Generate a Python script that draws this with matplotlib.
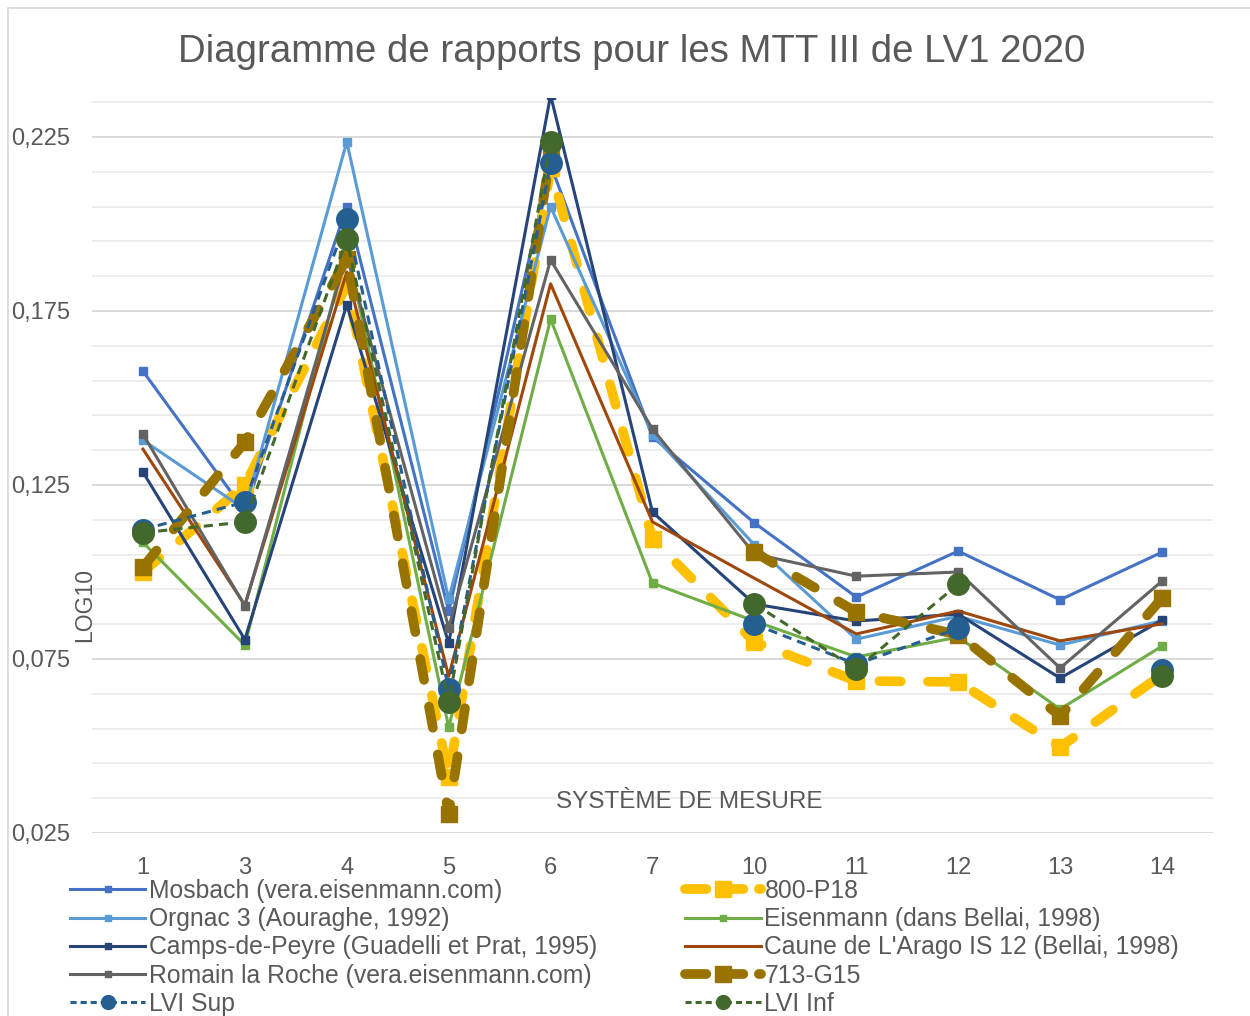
import numpy as np
import matplotlib
matplotlib.use("Agg")
import matplotlib.pyplot as plt
from matplotlib.lines import Line2D
from matplotlib.patches import Rectangle
from matplotlib.ticker import FixedLocator, FuncFormatter

plt.rcParams['font.family'] = ['Liberation Sans', 'DejaVu Sans']

nan = np.nan

# Measurement systems (category axis)
categories = ['1', '3', '4', '5', '6', '7', '10', '11', '12', '13', '14']

# LOG10 ratios per reference series
mosbach = [0.1577, 0.1175, 0.2050, 0.0888, 0.2170, 0.1388, 0.1141, 0.0928, 0.1060, 0.0920, 0.1057]
orgnac = [0.1379, 0.1180, 0.2236, 0.0922, 0.2050, 0.1395, 0.1078, 0.0807, 0.0873, 0.0790, 0.0860]
camps = [0.1287, 0.0806, 0.1768, 0.0795, 0.2370, 0.1172, 0.0908, 0.0859, 0.0879, 0.0695, 0.0862]
romain = [0.1396, 0.0903, 0.1910, 0.0840, 0.1897, 0.1411, 0.1052, 0.0988, 0.1000, 0.0724, 0.0974]
p18 = [0.1000, 0.1250, 0.1825, 0.0412, 0.2160, 0.1095, 0.0799, 0.0687, 0.0684, 0.0497, 0.0705]
eisenmann = [0.1085, 0.0790, 0.1935, 0.0554, 0.1727, 0.0968, 0.0859, 0.0756, 0.0813, 0.0606, 0.0787]
caune = [0.1353, 0.0905, 0.1862, 0.0700, 0.1828, 0.1144, 0.0982, 0.0822, 0.0888, 0.0802, 0.0851]
g15 = [0.1014, 0.1373, 0.1900, 0.0305, 0.2205, nan, 0.1057, 0.0885, 0.0820, 0.0586, 0.0925]
lvi_sup = [0.1122, 0.1201, 0.2013, 0.0664, 0.2175, nan, 0.0850, 0.0735, 0.0838, nan, 0.0718]
lvi_inf = [0.1113, 0.1144, 0.1957, 0.0626, 0.2236, nan, 0.0908, 0.0721, 0.0965, nan, 0.0700]

y_ticks = [0.025, 0.075, 0.125, 0.175, 0.225]

W, H = 1250, 1016
fig = plt.figure(figsize=(W / 100, H / 100), dpi=100)
fig.patch.set_facecolor('white')

# chart area border
fig.patches.append(Rectangle((8 / W, -0.01), 1.02, 1 - 8 / H + 0.01, transform=fig.transFigure,
                             fill=False, edgecolor='#D9D9D9', linewidth=1.2))

left, right, bottom = 92 / W, 1213 / W, 1 - 833 / H
ylo, yhi = 0.025, 0.2362
top_px = 833 - (yhi - ylo) / 0.05 * 174
ax = fig.add_axes([left, bottom, right - left, (833 - top_px) / H])

x = np.arange(len(categories))

thin = dict(linewidth=2.2, marker='s', markersize=5.5)
thick = dict(linewidth=7, marker='s', markersize=11, dash_capstyle='round',
             dashes=(2.2, 2.8))
lvi = dict(linewidth=2.2, marker='o', markersize=15.5, dashes=(3, 2))

series = [
    ('Mosbach (vera.eisenmann.com)', mosbach, '#4472C4', thin),
    ('800-P18', p18, '#FFC000', thick),
    ('Orgnac 3 (Aouraghe, 1992)', orgnac, '#5B9BD5', thin),
    ('Eisenmann (dans Bellai, 1998)', eisenmann, '#70AD47', thin),
    ('Camps-de-Peyre (Guadelli et Prat, 1995)', camps, '#264478', thin),
    ("Caune de L'Arago IS 12 (Bellai, 1998)", caune, '#9E480E', dict(linewidth=2.2)),
    ('Romain la Roche (vera.eisenmann.com)', romain, '#636363', thin),
    ('713-G15', g15, '#997300', thick),
    ('LVI Sup', lvi_sup, '#255E91', lvi),
    ('LVI Inf', lvi_inf, '#43682B', lvi),
]

handles = {}
for i, (name, vals, color, style) in enumerate(series):
    ln, = ax.plot(x, vals, color=color, markerfacecolor=color, markeredgecolor=color,
                  label=name, zorder=3 + i, **style)
    handles[name] = ln

ax.set_xlim(-0.5, len(categories) - 0.5)
ax.set_ylim(ylo, yhi)
ax.set_xticks(x)
ax.set_xticklabels(categories)
ax.yaxis.set_major_locator(FixedLocator(y_ticks))
ax.yaxis.set_minor_locator(FixedLocator(np.arange(0.035, 0.236, 0.01)))
ax.yaxis.set_major_formatter(FuncFormatter(lambda v, p: f"{v:.3f}".replace('.', ',')))
ax.grid(which='major', axis='y', color='#D9D9D9', linewidth=1.4, zorder=0)
ax.grid(which='minor', axis='y', color='#EDEDED', linewidth=1.4, zorder=0)
ax.set_axisbelow(True)
for s in ax.spines.values():
    s.set_visible(False)
ax.tick_params(axis='both', which='both', length=0, labelsize=17, labelcolor='#595959')
ax.tick_params(axis='y', pad=16)
ax.tick_params(axis='x', pad=17)

fig.text(0.505, 1 - 52 / H, 'Diagramme de rapports pour les MTT III de LV1 2020',
         ha='center', va='center', fontsize=27.6, color='#595959')
fig.text(85 / W, 1 - 605 / H, 'LOG10', rotation=90, ha='center', va='center',
         fontsize=16.5, color='#595959')
fig.text(689 / W, 1 - 802 / H, 'SYSTÈME DE MESURE', ha='center', va='center',
         fontsize=17.5, color='#595959')

order = ['Mosbach (vera.eisenmann.com)', 'Orgnac 3 (Aouraghe, 1992)',
         'Camps-de-Peyre (Guadelli et Prat, 1995)', 'Romain la Roche (vera.eisenmann.com)',
         'LVI Sup', '800-P18', 'Eisenmann (dans Bellai, 1998)',
         "Caune de L'Arago IS 12 (Bellai, 1998)", '713-G15', 'LVI Inf']

leg_handles = []
for name in order:
    h = handles[name]
    if name in ('800-P18', '713-G15'):
        lh = Line2D([], [], color=h.get_color(), linewidth=7, marker='s', markersize=11,
                    dash_capstyle='round', dashes=(2.2, 1.6))
    elif name.startswith('LVI'):
        lh = Line2D([], [], color=h.get_color(), linewidth=2.2, marker='o', markersize=10,
                    dashes=(2, 1.3))
    elif name.startswith('Caune'):
        lh = Line2D([], [], color=h.get_color(), linewidth=2.2)
    else:
        lh = Line2D([], [], color=h.get_color(), linewidth=2.2, marker='s', markersize=5)
    leg_handles.append(lh)

leg = fig.legend(leg_handles, order, ncol=2, loc='upper left',
                 bbox_to_anchor=(70 / W, 1 - 879 / H), frameon=False, fontsize=17.8,
                 handlelength=3.05, handletextpad=0.15, columnspacing=3.56,
                 labelspacing=0.17, borderaxespad=0, borderpad=0)
for t in leg.get_texts():
    t.set_color('#595959')

fig.savefig('out.png', dpi=100, facecolor='white')
